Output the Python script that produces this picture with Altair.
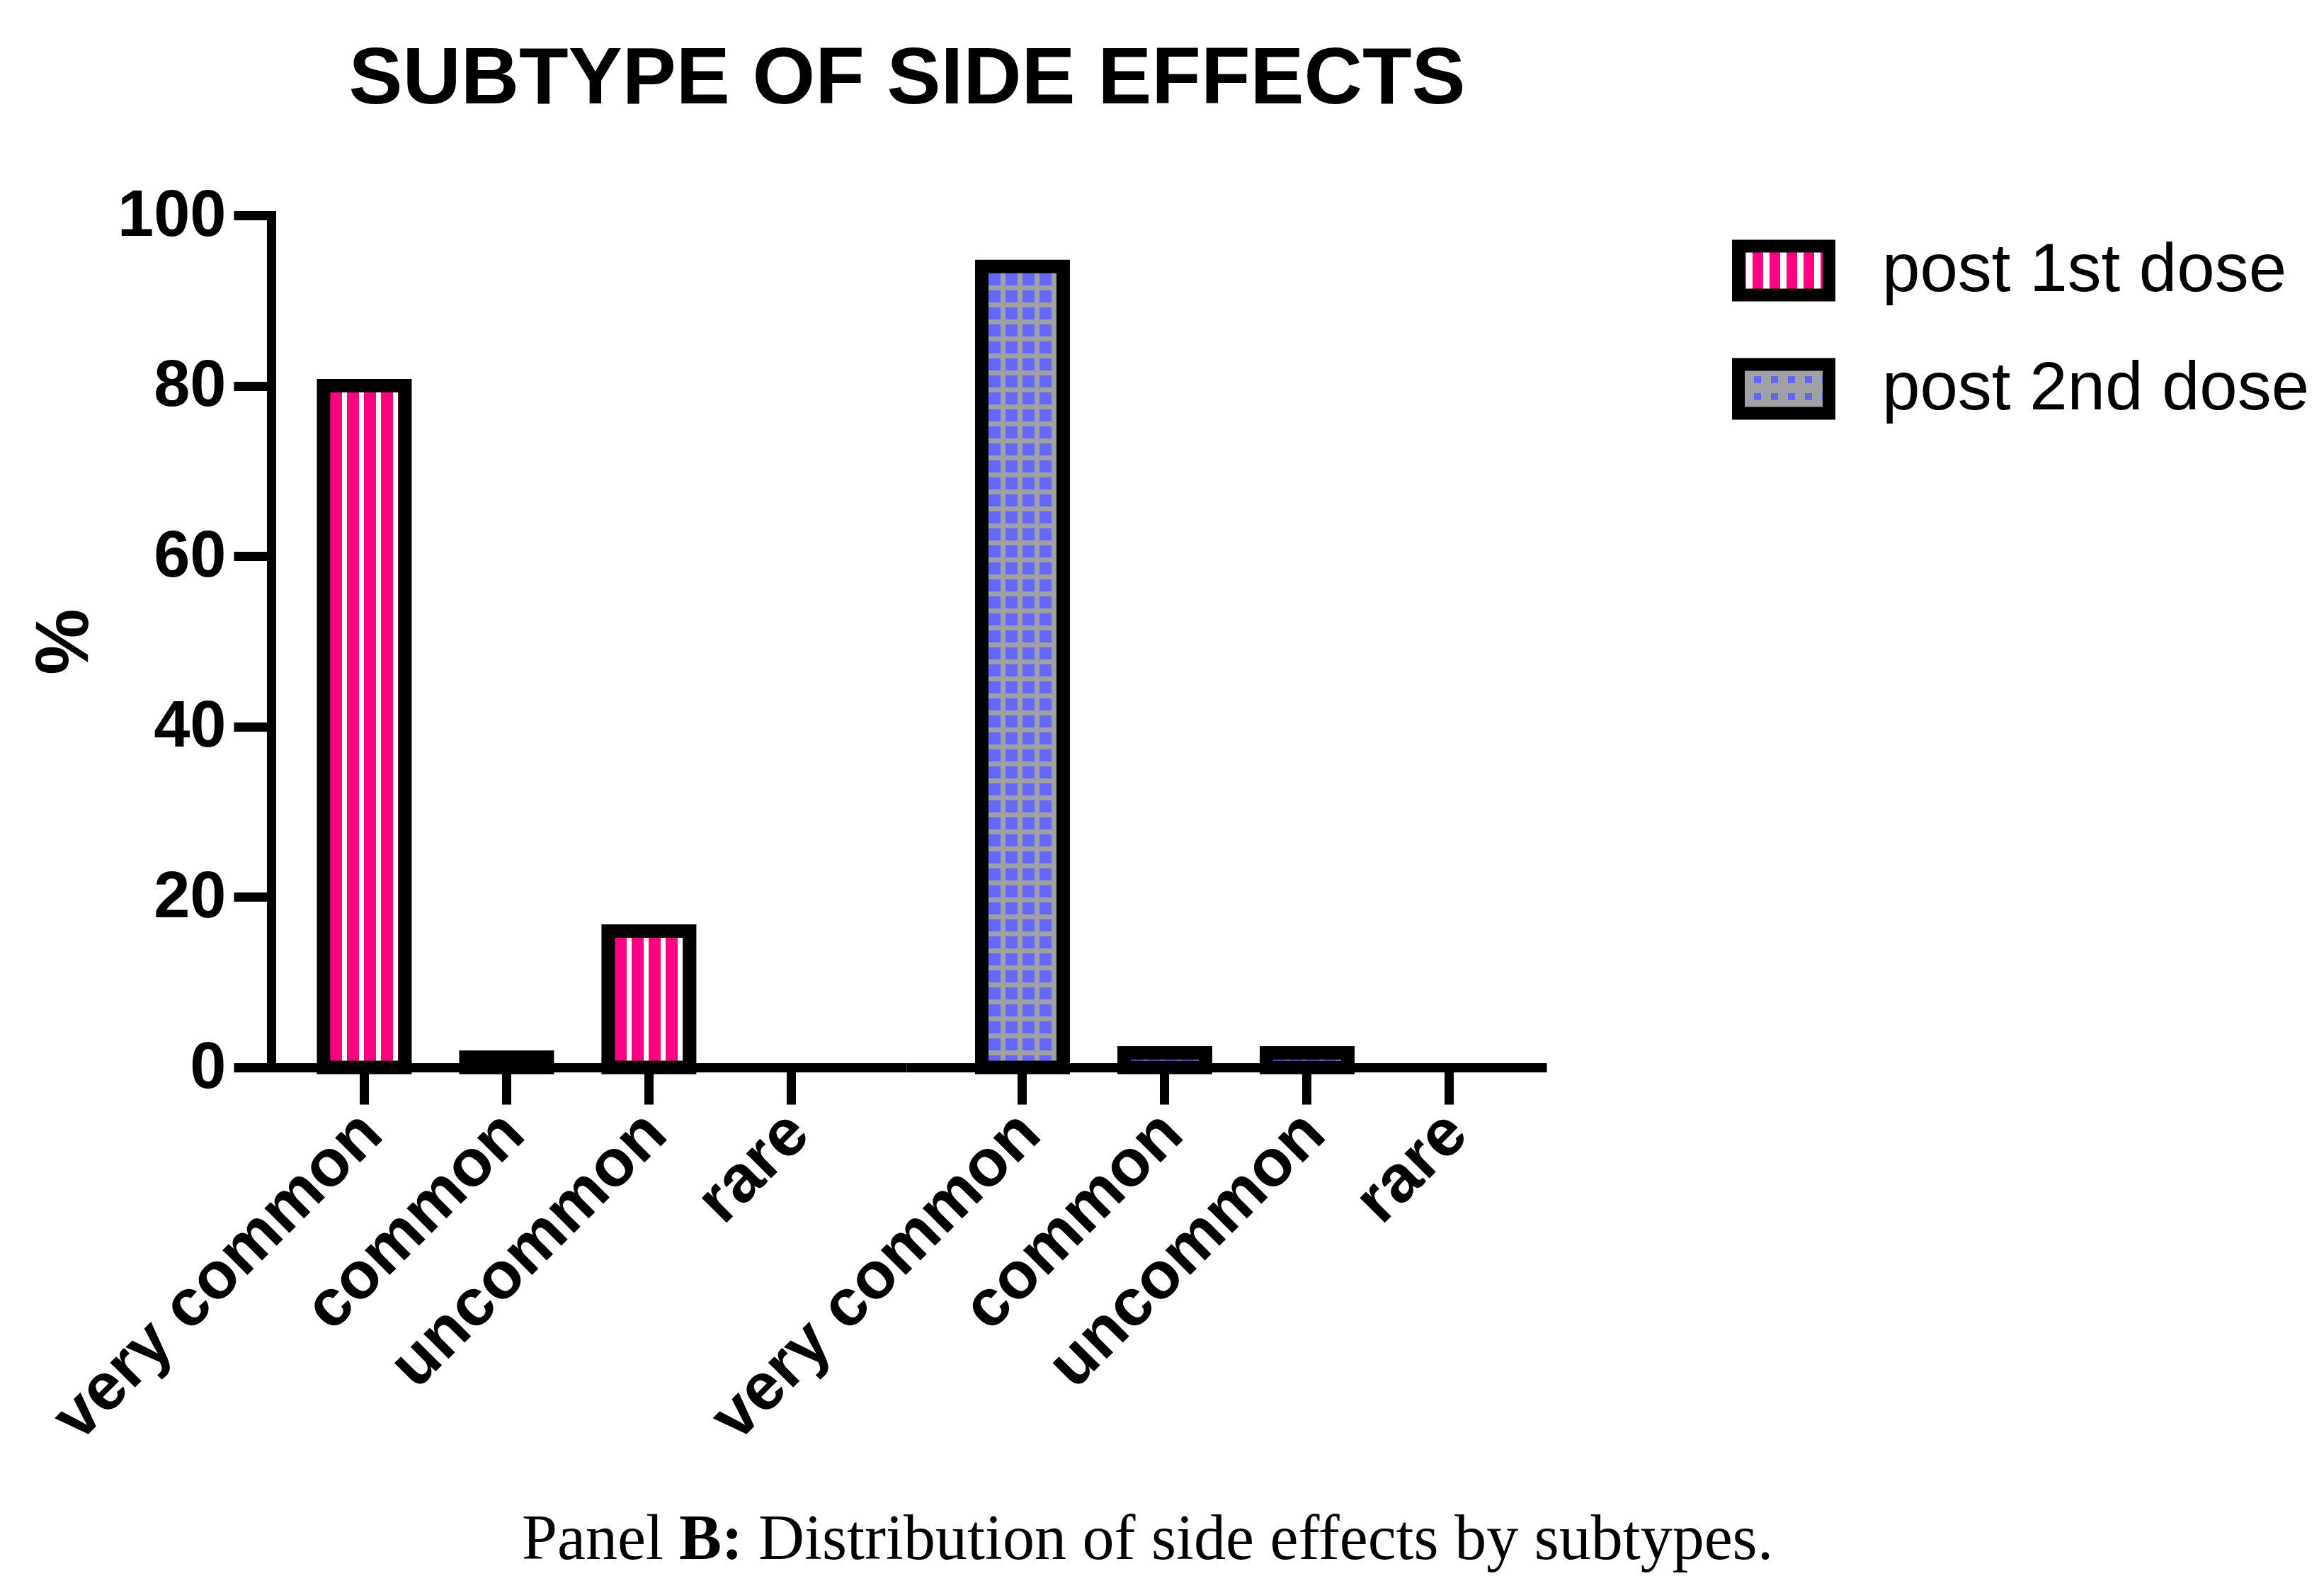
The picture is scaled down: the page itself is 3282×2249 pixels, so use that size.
import altair as alt
import pandas as pd

# values
categories = ["very common", "common", "uncommon", "rare"]
first_dose = [80.0, 1.2, 16.0, 0.0]
second_dose = [94.0, 1.7, 1.7, 0.0]
series_labels = ["post 1st dose", "post 2nd dose"]
y_ticks = [0, 20, 40, 60, 80, 100]
title_text = ["SUBTYPE OF SIDE EFFECTS"]
caption_start = ["Panel"]
caption_bold = ["B:"]
caption_rest = ["Distribution of side effects by subtypes."]

PINK = "#FF0080"
BLUE = "#6666FF"
GRAY = "#A0A1A5"
CLEAR = "rgba(255,255,255,0)"
SANS = "Liberation Sans"
SERIF = "Liberation Serif"


def striped(base, band, bands, size, vertical=False):
    # hard-stop linear gradient -> stripe pattern inside each mark
    stops = [alt.GradientStop(color=base, offset=0)]
    for a, b in bands:
        stops += [
            alt.GradientStop(color=base, offset=a / size),
            alt.GradientStop(color=band, offset=a / size),
            alt.GradientStop(color=band, offset=b / size),
            alt.GradientStop(color=base, offset=b / size),
        ]
    stops.append(alt.GradientStop(color=base, offset=1))
    if vertical:
        return alt.LinearGradient(gradient="linear", stops=stops, x1=0, x2=0, y1=0, y2=1)
    return alt.LinearGradient(gradient="linear", stops=stops, x1=0, x2=1, y1=0, y2=0)


bar_cols = [(26.5, 33.5), (50.5, 57.5), (74.5, 81.5), (98.5, 105.5)]
bar_rows = [(26.5 + 24 * k, 33.5 + 24 * k) for k in range(46)]
pink_fill = striped(PINK, "white", bar_cols, 115)
blue_fill = striped(BLUE, GRAY, bar_cols, 115)
rows_fill = striped(CLEAR, GRAY, bar_rows, 1131, vertical=True)

leg_pink = striped(PINK, "white", [(11, 20), (35, 44), (59, 68), (83, 92), (107, 116)], 128)
leg_blue = striped(GRAY, BLUE, [(22, 32), (46, 56), (70, 80), (94, 104), (118, 128)], 128)
leg_rows = striped(GRAY, CLEAR, [(16, 26), (40, 50)], 69, vertical=True)

df1 = pd.DataFrame({"subtype": categories, "pct": first_dose})
df2 = pd.DataFrame({"subtype": categories, "pct": second_dose})
legend_df = pd.DataFrame({"series": series_labels})

x_axis = alt.Axis(
    title=None, labelAngle=-45, labelFont=SANS, labelFontSize=94, labelFontWeight="bold",
    labelColor="black", labelPadding=26, labelOffset=10, labelBaseline="middle",
    labelAlign="right", labelLimit=2000, tickSize=52, tickWidth=13, tickColor="black",
    domainWidth=13, domainColor="black", labelOverlap=False,
)
y_scale = alt.Scale(domain=[0, 100], nice=False)

# panel 1: post 1st dose
x1 = alt.X("subtype:N", sort=categories, axis=x_axis,
           scale=alt.Scale(domain=categories, paddingInner=0.428, paddingOuter=0.4455, align=0.413))
y1 = alt.Y("pct:Q", scale=y_scale, axis=alt.Axis(
    values=y_ticks, title="%", titleFont=SANS, titleFontSize=105, titleFontWeight="bold",
    titleColor="black", titlePadding=38, labelFont=SANS, labelFontSize=92,
    labelFontWeight="bold", labelColor="black", labelPadding=11, tickSize=53,
    tickWidth=13, tickColor="black", domainWidth=13, domainColor="black",
    domainCap="square", grid=False,
))

bars1 = alt.Chart(df1).transform_filter("datum.pct > 0").mark_bar(
    fill=pink_fill, stroke="black", strokeWidth=19
).encode(x=x1, y=y1)

title_mark = alt.Chart(pd.DataFrame({"t": title_text})).mark_text(
    font=SANS, fontSize=114, fontWeight="bold", color="black", align="center", baseline="alphabetic"
).encode(text="t:N", x=alt.value(898), y=alt.value(-158))

cap1 = alt.Chart(pd.DataFrame({"t": caption_start})).mark_text(
    font=SERIF, fontSize=90, color="black", align="right", baseline="alphabetic"
).encode(text="t:N", x=alt.value(554), y=alt.value(1897))
cap2 = alt.Chart(pd.DataFrame({"t": caption_bold})).mark_text(
    font=SERIF, fontSize=90, fontWeight="bold", color="black", align="left", baseline="alphabetic"
).encode(text="t:N", x=alt.value(576), y=alt.value(1897))
cap3 = alt.Chart(pd.DataFrame({"t": caption_rest})).mark_text(
    font=SERIF, fontSize=90, color="black", align="left", baseline="alphabetic"
).encode(text="t:N", x=alt.value(688), y=alt.value(1897))

panel1 = alt.layer(bars1, title_mark, cap1, cap2, cap3).properties(width=897, height=1203)

# panel 2: post 2nd dose
x2 = alt.X("subtype:N", sort=categories, axis=x_axis,
           scale=alt.Scale(domain=categories, paddingInner=0.428, paddingOuter=0.4628, align=0.5725))
y2 = alt.Y("pct:Q", scale=y_scale, axis=None)

base2 = alt.Chart(df2).transform_filter("datum.pct > 0").mark_bar(fill=blue_fill).encode(x=x2, y=y2)
grid2 = alt.Chart(df2).transform_filter("datum.pct > 10").mark_bar(fill=rows_fill).encode(x=x2, y=y2)
edge2 = alt.Chart(df2).transform_filter("datum.pct > 0").mark_bar(
    fillOpacity=0, stroke="black", strokeWidth=19
).encode(x=x2, y=y2)

panel2 = alt.layer(base2, grid2, edge2).properties(width=904, height=1203)

# legend drawn by hand so the swatches can carry the patterns
ly = alt.Y("series:N", axis=None,
           scale=alt.Scale(domain=series_labels, paddingInner=0.587, paddingOuter=0.2935, align=0.444))
leg_base = alt.Chart(legend_df)
sw1 = leg_base.transform_filter(alt.datum.series == series_labels[0]).mark_rect(fill=leg_pink).encode(
    x=alt.value(271), x2=alt.value(399), y=ly)
sw2 = leg_base.transform_filter(alt.datum.series == series_labels[1]).mark_rect(fill=leg_blue).encode(
    x=alt.value(271), x2=alt.value(399), y=ly)
sw2b = leg_base.transform_filter(alt.datum.series == series_labels[1]).mark_rect(fill=leg_rows).encode(
    x=alt.value(271), x2=alt.value(399), y=ly)
sw_edge = leg_base.mark_rect(fillOpacity=0, stroke="black", strokeWidth=18).encode(
    x=alt.value(271), x2=alt.value(399), y=ly)
leg_text = leg_base.mark_text(font=SANS, fontSize=96, color="black", align="left", baseline="middle").encode(
    text="series:N", x=alt.value(474), y=ly)

legend = alt.layer(sw1, sw2, sw2b, sw_edge, leg_text).properties(width=1000, height=334)

chart = alt.hconcat(panel1, panel2, legend, spacing=0, bounds="flush").properties(
    padding={"left": 31, "top": 47, "right": 5, "bottom": 5}
).configure_view(stroke=None).configure_axis(grid=False)

chart.save("out.html", embed_options={"renderer": "svg", "actions": False})
